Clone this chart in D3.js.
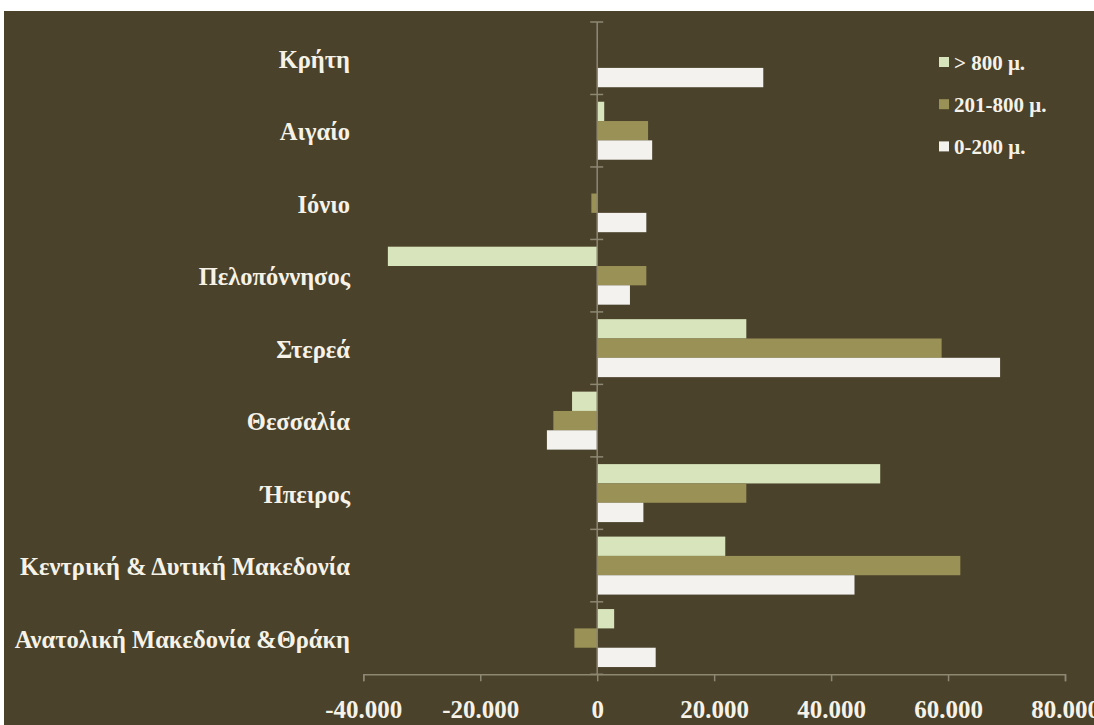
<!DOCTYPE html>
<html><head><meta charset="utf-8">
<script src="https://cdn.jsdelivr.net/npm/d3@7"></script>
<style>html,body{margin:0;padding:0;background:#fff;}svg{display:block;}</style>
</head><body>
<svg id="c" width="1094" height="725"></svg>
<script>
const categories = ["Κρήτη","Αιγαίο","Ιόνιο","Πελοπόννησος","Στερεά","Θεσσαλία","Ήπειρος","Κεντρική & Δυτική Μακεδονία","Ανατολική Μακεδονία &Θράκη"];
const seriesNames = ["> 800 μ.","201-800 μ.","0-200 μ."];
const over800 = [100, 1200, 0, -35800, 25500, -4300, 48400, 21900, 2900];
const mid201_800 = [0, 8700, -1000, 8400, 58900, -7500, 25500, 62100, -3900];
const low0_200 = [28400, 9400, 8400, 5600, 68900, -8600, 7900, 44000, 10000];
const xTicks = [-40000,-20000,0,20000,40000,60000,80000];
const colors = ["#d8e4bc","#9a9157","#f3f2ef"];

const svg = d3.select("#c");
svg.append("rect").attr("x",4).attr("y",11).attr("width",1090).attr("height",714).attr("fill","#4a422b");

const x = d3.scaleLinear().domain([-40000,80000]).range([363.3,1065]);
const y = d3.scaleBand().domain(categories).range([22,674.3]).paddingInner(0.2).paddingOuter(0.1);
const ys = d3.scaleBand().domain(d3.range(3)).range([0,y.bandwidth()]);
const series = [over800, mid201_800, low0_200];

const loc = d3.formatLocale({decimal:",",thousands:".",grouping:[3],currency:["",""],minus:"-"});
const fmt = loc.format(",.0f");
const txt = "#f6f2e8";
const font = "Liberation Serif, 'Times New Roman', serif";

// x axis
const xAxis = d3.axisBottom(x).tickValues(xTicks).tickFormat(fmt).tickSize(7).tickPadding(19);
const gx = svg.append("g").attr("transform","translate(0,674.3)").call(xAxis);
gx.select(".domain").attr("stroke","#8e8772").attr("stroke-width",1.5);
gx.selectAll(".tick line").attr("stroke","#8e8772").attr("stroke-width",1.5);
gx.selectAll(".tick text").attr("fill",txt).attr("font-family",font)
  .attr("font-weight","bold").attr("font-size",25);

// bars
series.forEach((vals,si)=>{
  svg.append("g").selectAll("rect").data(categories).join("rect")
    .attr("x",(d,i)=>x(Math.min(0,vals[i])))
    .attr("width",(d,i)=>Math.abs(x(vals[i])-x(0)))
    .attr("y",d=>y(d)+ys(si))
    .attr("height",ys.bandwidth())
    .attr("fill",colors[si]);
});

// category axis at zero
const step = y.step();
const bounds = categories.map(c=>y(c)-y.paddingInner()*step/2).concat([y(categories[categories.length-1])+y.bandwidth()+y.paddingInner()*step/2]);
svg.append("line").attr("x1",x(0)).attr("x2",x(0)).attr("y1",bounds[0]).attr("y2",674.3)
  .attr("stroke","#8e8772").attr("stroke-width",1.5);
svg.append("g").selectAll("line").data(bounds).join("line")
  .attr("x1",x(0)-7).attr("x2",x(0)+6).attr("y1",d=>d).attr("y2",d=>d)
  .attr("stroke","#8e8772").attr("stroke-width",1.5);

// category labels
svg.append("g").selectAll("text").data(categories).join("text")
  .attr("x",350).attr("y",d=>y(d)+y.bandwidth()/2+1)
  .attr("text-anchor","end").attr("dominant-baseline","central")
  .attr("fill",txt).attr("font-family",font)
  .attr("font-weight","bold").attr("font-size",24.5).text(d=>d);

// legend
const lg = svg.append("g").selectAll("g").data(seriesNames).join("g")
  .attr("transform",(d,i)=>`translate(939,${62+i*42.2})`);
lg.append("rect").attr("x",0).attr("y",-5).attr("width",10).attr("height",10).attr("fill",(d,i)=>colors[i]);
lg.append("text").attr("x",15).attr("y",1).attr("dominant-baseline","central")
  .attr("fill",txt).attr("font-family",font)
  .attr("font-weight","bold").attr("font-size",21).text(d=>d);
</script>
</body></html>
